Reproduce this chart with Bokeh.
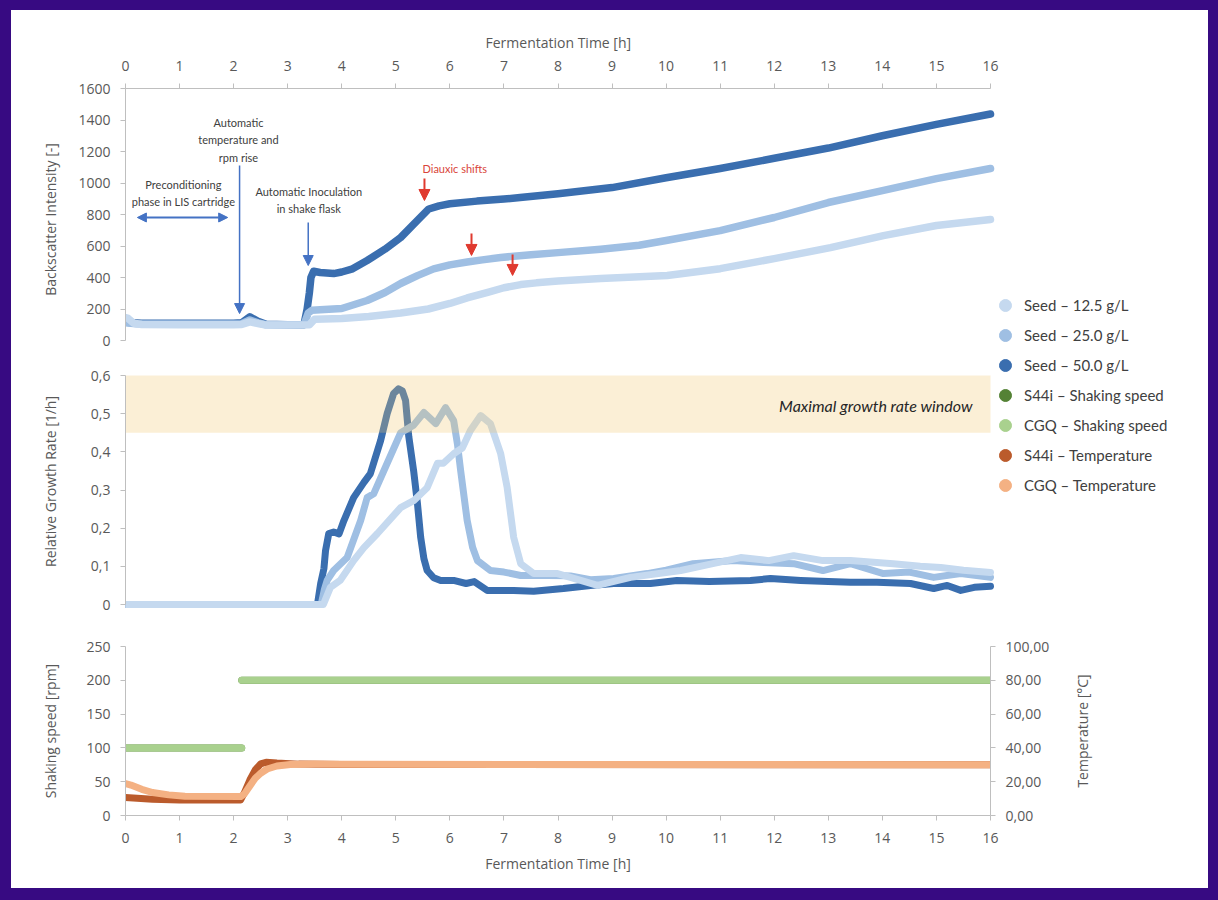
import math
from bokeh.plotting import figure
from bokeh.layouts import column, row
from bokeh.models import (ColumnDataSource, Range1d, LinearAxis, FixedTicker, Title,
                          CustomJSTickFormatter, Arrow, NormalHead, Legend, LegendItem)
from bokeh.core.properties import value
from bokeh.embed import file_html
from bokeh.resources import INLINE

nan = float("nan")

# ---------------- data ----------------
hour_ticks = list(range(0, 17))
bs_ticks = [0, 200, 400, 600, 800, 1000, 1200, 1400, 1600]
mu_ticks = [0, 0.1, 0.2, 0.3, 0.4, 0.5, 0.6]
rpm_ticks = [0, 50, 100, 150, 200, 250]
temp_ticks = [0, 20, 40, 60, 80, 100]

# Backscatter intensity
bs_t_50 = [0.0, 0.1, 0.3, 1.0, 2.0, 2.15, 2.3, 2.45, 2.6, 3.0, 3.3, 3.36, 3.4, 3.43, 3.48,
           3.6, 3.85, 4.0, 4.2, 4.47, 4.8, 5.09, 5.4, 5.61, 5.8, 6.0, 6.5, 7.0, 7.3, 8.0,
           9.0, 10.0, 11.0, 12.0, 13.0, 14.0, 15.0, 16.0]
bs_50 = [118, 112, 110, 110, 110, 113, 150, 122, 103, 100, 100, 200, 300, 400, 440,
         432, 425, 435, 455, 508, 580, 654, 762, 835, 855, 868, 885, 898, 908, 932,
         971, 1033, 1092, 1157, 1222, 1300, 1372, 1438]
bs_t_25 = [0.0, 0.2, 1.0, 2.0, 2.15, 2.3, 2.45, 2.6, 3.0, 3.3, 3.38, 3.45, 3.6, 4.0, 4.47,
           4.8, 5.09, 5.4, 5.7, 6.0, 6.32, 6.6, 6.94, 7.5, 8.0, 8.79, 9.5, 10.0, 11.0, 12.0,
           13.0, 14.0, 15.0, 16.0]
bs_25 = [112, 106, 105, 105, 107, 130, 112, 100, 100, 100, 175, 192, 195, 203, 254,
         305, 362, 412, 455, 480, 498, 512, 527, 545, 558, 580, 605, 635, 698, 781,
         876, 952, 1028, 1092]
bs_t_12 = [0.0, 0.05, 0.15, 0.3, 1.0, 2.0, 2.15, 2.3, 2.45, 2.6, 3.0, 3.4, 3.5, 4.0, 4.5,
           5.09, 5.6, 6.0, 6.32, 6.7, 7.0, 7.31, 7.6, 8.0, 8.79, 10.02, 11.0, 12.0, 13.04,
           14.02, 15.0, 16.0]
bs_12 = [145, 140, 110, 102, 100, 100, 102, 118, 108, 98, 98, 100, 135, 140, 152,
         175, 200, 235, 270, 305, 335, 355, 366, 378, 394, 413, 456, 520, 590,
         666, 730, 768]

# Relative growth rate
mu_t_50 = [0.0, 3.55, 3.61, 3.67, 3.70, 3.76, 3.85, 3.95, 4.04, 4.22, 4.41, 4.53, 4.72, 4.84,
           4.96, 5.05, 5.12, 5.18, 5.24, 5.33, 5.40, 5.46, 5.52, 5.58, 5.70, 5.83, 6.07, 6.30,
           6.45, 6.69, 7.18, 7.55, 8.10, 8.60, 9.03, 9.71, 10.20, 10.80, 11.56, 11.93, 12.49,
           13.00, 13.41, 13.90, 14.52, 14.95, 15.20, 15.45, 15.70, 16.0]
mu_50 = [0, 0, 0.055, 0.094, 0.141, 0.186, 0.19, 0.185, 0.22, 0.28, 0.32, 0.343, 0.43, 0.50,
         0.553, 0.565, 0.56, 0.535, 0.44, 0.35, 0.265, 0.176, 0.12, 0.089, 0.07, 0.063, 0.063,
         0.055, 0.06, 0.037, 0.037, 0.035, 0.042, 0.05, 0.055, 0.055, 0.063, 0.06, 0.063, 0.068,
         0.063, 0.06, 0.058, 0.058, 0.055, 0.042, 0.05, 0.037, 0.045, 0.048]
mu_t_25 = [0.0, 3.62, 3.68, 3.73, 3.85, 4.10, 4.35, 4.47, 4.59, 4.84, 5.09, 5.33, 5.52, 5.74,
           5.92, 6.07, 6.14, 6.20, 6.32, 6.42, 6.51, 6.75, 7.00, 7.31, 7.80, 8.23, 8.60, 9.03,
           9.65, 10.00, 10.50, 11.25, 11.80, 12.36, 12.90, 13.41, 14.02, 14.50, 14.95, 15.45, 16.0]
mu_25 = [0, 0, 0.04, 0.063, 0.089, 0.123, 0.22, 0.28, 0.29, 0.37, 0.45, 0.47, 0.503, 0.474,
         0.516, 0.482, 0.42, 0.35, 0.22, 0.15, 0.115, 0.089, 0.085, 0.076, 0.076, 0.075, 0.065,
         0.068, 0.081, 0.09, 0.107, 0.115, 0.11, 0.107, 0.089, 0.107, 0.081, 0.085, 0.071,
         0.081, 0.071]
mu_t_12 = [0.0, 3.66, 3.79, 3.97, 4.22, 4.41, 4.66, 5.09, 5.33, 5.58, 5.77, 5.88, 6.07, 6.23,
           6.38, 6.57, 6.75, 6.94, 7.06, 7.18, 7.31, 7.55, 7.99, 8.42, 8.73, 9.34, 10.27, 10.80,
           11.38, 11.90, 12.36, 12.90, 13.41, 14.20, 14.70, 15.08, 15.50, 16.0]
mu_12 = [0, 0, 0.045, 0.063, 0.115, 0.149, 0.186, 0.254, 0.272, 0.306, 0.37, 0.37, 0.395, 0.41,
         0.456, 0.495, 0.474, 0.395, 0.306, 0.176, 0.107, 0.081, 0.081, 0.063, 0.05, 0.071,
         0.089, 0.105, 0.123, 0.115, 0.128, 0.115, 0.115, 0.107, 0.1, 0.097, 0.09, 0.084]
band_left, band_right, band_bottom, band_top = [0.0], [16.0], [0.45], [0.6]

# Shaking speed [rpm] and temperature [°C]
shake_t = [0.0, 2.15, 2.15, 2.15, 16.0]
s44_rpm = [100, 100, nan, 200, 200]
cgq_rpm = [100, 100, nan, 200, 200]
s44_temp_t = [0.0, 0.5, 1.0, 2.13, 2.2, 2.3, 2.4, 2.5, 2.6, 2.8, 3.2, 4.0, 16.0]
s44_temp = [10.6, 9.6, 9.2, 9.2, 13.5, 21.0, 27.0, 30.5, 31.5, 31.0, 30.4, 30.2, 30.0]
cgq_temp_t = [0.0, 0.1, 0.3, 0.5, 0.8, 1.1, 2.13, 2.2, 2.3, 2.4, 2.5, 2.62, 2.8, 3.05, 3.5, 4.0, 16.0]
cgq_temp = [18.9, 18.0, 15.5, 13.6, 12.2, 11.4, 11.2, 12.8, 17.5, 22.0, 25.0, 27.5, 29.3, 30.2,
            30.4, 30.3, 30.0]

legend_labels = ["Seed – 12.5 g/L", "Seed – 25.0 g/L", "Seed – 50.0 g/L",
                 "S44i – Shaking speed", "CGQ – Shaking speed",
                 "S44i – Temperature", "CGQ – Temperature"]

# ---------------- styles ----------------
PURPLE = "#370a82"
C12, C25, C50 = "#c5d9ef", "#9fbfe3", "#3a6eaf"
G_DARK, G_LIGHT = "#548235", "#a9d18e"
O_DARK, O_LIGHT = "#bb5b2c", "#f4b183"
AXC, TXT = "#bfbfbf", "#595959"
FONT = "Open Sans"
W = 1197
FL, FR = 114, 218
LW = 7.5
PX_PER_H = 865 / 16.0              # frame scale of the time axis
T_VIEW = (W - FL) / PX_PER_H       # top/middle frames extend to the right edge (legend room)
LAB_W = 148                        # width of the strip holding the right axis title


def style_axis(ax, standoff, label_standoff):
    ax.axis_line_color = AXC
    ax.major_tick_line_color = AXC
    ax.minor_tick_line_color = None
    ax.major_tick_out = 5
    ax.major_tick_in = 0
    ax.major_label_text_font = FONT
    ax.major_label_text_font_size = "14px"
    ax.major_label_text_color = TXT
    ax.major_label_standoff = standoff
    ax.axis_label_text_font = FONT
    ax.axis_label_text_font_size = "14px"
    ax.axis_label_text_color = TXT
    ax.axis_label_text_font_style = "normal"
    ax.axis_label_standoff = label_standoff


def base(p):
    p.xgrid.visible = False
    p.ygrid.visible = False
    p.outline_line_color = None
    p.background_fill_color = "white"
    p.border_fill_color = "white"
    p.frame_align = False


def make_legend(p, labels, colors, loc):
    items = []
    for lab_, col in zip(labels, colors):
        r = p.scatter(x=[nan], y=[nan], marker="circle", size=12, fill_color=col, line_color=col)
        items.append(LegendItem(label=lab_, renderers=[r]))
    leg = Legend(items=items, location=loc, orientation="vertical",
                 glyph_width=30, glyph_height=30, label_height=30, spacing=0,
                 padding=0, margin=0, label_standoff=4,
                 border_line_color=None, background_fill_alpha=0,
                 label_text_font="Lato", label_text_font_size="15px",
                 label_text_color="#404040")
    p.add_layout(leg)


# ---------------- top: backscatter ----------------
xr_top = Range1d(0, T_VIEW)
p1 = figure(width=W, height=340, x_range=xr_top, y_range=Range1d(-10 / 0.1575, 1600),
            x_axis_location="above", output_backend="svg", toolbar_location=None,
            min_border_left=FL, min_border_right=0, min_border_top=78, min_border_bottom=0)
base(p1)
p1.xaxis.ticker = FixedTicker(ticks=hour_ticks)
p1.xaxis.bounds = (0, 16)
style_axis(p1.xaxis[0], 13, 8)
p1.yaxis.ticker = FixedTicker(ticks=bs_ticks)
p1.yaxis.bounds = (0, 1600)
p1.yaxis.axis_label = "Backscatter Intensity [-]"
style_axis(p1.yaxis[0], 10, 15)
# axis title of the top time axis, centred over the 0–16 h part of the frame
p1.add_layout(Title(text="Fermentation Time [h]", align="left", offset=360, standoff=11,
                    text_font=FONT, text_font_size="14px", text_font_style="normal",
                    text_color=TXT), "above")

for t, v, c in [(bs_t_50, bs_50, C50), (bs_t_25, bs_25, C25), (bs_t_12, bs_12, C12)]:
    p1.line(t, v, line_width=LW, color=c, line_cap="round", line_join="round")

ann = ColumnDataSource(dict(
    x=[1.07, 2.09, 3.39],
    y=[936, 1273, 892],
    text=["Preconditioning\nphase in LIS cartridge", "Automatic\ntemperature and\nrpm rise",
          "Automatic Inoculation\nin shake flask"]))
p1.text(x="x", y="y", text="text", source=ann, text_font=value("Lato"), text_font_size="11px",
        text_color="#404040", text_align="center", text_baseline="middle", text_line_height=1.35)
p1.text(x=[6.09], y=[1092], text=["Diauxic shifts"], text_font=value("Lato"),
        text_font_size="11px", text_color="#d9453a", text_align="center", text_baseline="middle")

BLUE = "#4472c4"
RED = "#e03a2f"


def head(c, s):
    return NormalHead(size=s, fill_color=c, line_color=c)


p1.add_layout(Arrow(start=head(BLUE, 9), end=head(BLUE, 9), x_start=0.22, y_start=781,
                    x_end=1.89, y_end=781, line_color=BLUE, line_width=2))
p1.add_layout(Arrow(end=head(BLUE, 10), x_start=2.11, y_start=1111, x_end=2.11, y_end=171,
                    line_color=BLUE, line_width=1.5))
p1.add_layout(Arrow(end=head(BLUE, 10), x_start=3.38, y_start=749, x_end=3.38, y_end=476,
                    line_color=BLUE, line_width=1.5))
for ax_, y0, y1 in [(5.53, 1029, 889), (6.40, 679, 540), (7.16, 546, 413)]:
    p1.add_layout(Arrow(end=head(RED, 11), x_start=ax_, y_start=y0, x_end=ax_, y_end=y1,
                        line_color=RED, line_width=2))

make_legend(p1, legend_labels[:2], [C12, C25], (865, 0))

# ---------------- middle: growth rate ----------------
MU_PX = 229 / 0.6
p2 = figure(width=W, height=272, x_range=xr_top,
            y_range=Range1d(-8 / MU_PX, 0.6 + 25 / MU_PX),
            x_axis_location=None, output_backend="svg", toolbar_location=None,
            min_border_left=FL, min_border_right=0, min_border_top=0, min_border_bottom=10)
base(p2)
p2.yaxis.ticker = FixedTicker(ticks=mu_ticks)
p2.yaxis.bounds = (0, 0.6)
p2.yaxis.formatter = CustomJSTickFormatter(
    code="return tick == 0 ? '0' : tick.toFixed(1).replace('.', ',');")
p2.yaxis.axis_label = "Relative Growth Rate [1/h]"
style_axis(p2.yaxis[0], 10, 28)

for t, v, c in [(mu_t_50, mu_50, C50), (mu_t_25, mu_25, C25), (mu_t_12, mu_12, C12)]:
    p2.line(t, v, line_width=7, color=c, line_cap="round", line_join="round")

p2.quad(left=band_left, right=band_right, bottom=band_bottom, top=band_top,
        fill_color="#f2c66d", fill_alpha=0.28, line_color=None)
p2.text(x=[15.67], y=[0.521], text=["Maximal growth rate window"], text_font=value("Lato"),
        text_font_size="16px", text_font_style="italic", text_color="#262626",
        text_align="right", text_baseline="middle")

make_legend(p2, legend_labels[2:], [C50, G_DARK, G_LIGHT, O_DARK, O_LIGHT], (865, 112))

# ---------------- bottom: shaking speed & temperature ----------------
p3 = figure(width=W - LAB_W, height=266, x_range=Range1d(0, 16), y_range=Range1d(0, 250),
            output_backend="svg", toolbar_location=None,
            min_border_left=FL, min_border_right=FR - LAB_W, min_border_top=24,
            min_border_bottom=73)
base(p3)
p3.extra_y_ranges = {"temp": Range1d(0, 100)}
p3.xaxis.ticker = FixedTicker(ticks=hour_ticks)
p3.xaxis.axis_label = "Fermentation Time [h]"
style_axis(p3.xaxis[0], 12, 8)
p3.yaxis.ticker = FixedTicker(ticks=rpm_ticks)
p3.yaxis.axis_label = "Shaking speed [rpm]"
style_axis(p3.yaxis[0], 10, 23)
rax = LinearAxis(y_range_name="temp", ticker=FixedTicker(ticks=temp_ticks),
                 formatter=CustomJSTickFormatter(code="return tick.toFixed(2).replace('.', ',');"))
style_axis(rax, 10, 0)
rax.major_label_text_align = "left"
p3.add_layout(rax, "right")

p3.line(shake_t, s44_rpm, line_width=7, color=G_DARK, line_cap="round")
p3.line(shake_t, cgq_rpm, line_width=7, color=G_LIGHT, line_cap="round")
p3.line(s44_temp_t, s44_temp, y_range_name="temp", line_width=7, color=O_DARK,
        line_cap="round", line_join="round")
p3.line(cgq_temp_t, cgq_temp, y_range_name="temp", line_width=7, color=O_LIGHT,
        line_cap="round", line_join="round")

# strip to the right of the bottom panel that carries the right axis title
lab = figure(width=LAB_W, height=266, x_range=Range1d(0, LAB_W), y_range=Range1d(0, 266),
             x_axis_location=None, y_axis_location=None, output_backend="svg",
             toolbar_location=None, min_border=0)
base(lab)
lab.text(x=[22], y=[266 - (730.5 - 622)], text=["Temperature [°C]"], angle=math.pi / 2,
         text_font=value(FONT), text_font_size="14px", text_color=TXT,
         text_align="center", text_baseline="middle")

bottom = row(p3, lab, spacing=0)
inner = column(p1, p2, bottom, spacing=0, margin=(10, 10, 12, 11),
               styles={"background-color": "white"})
layout = column(inner, spacing=0,
                styles={"background-color": PURPLE, "position": "absolute",
                        "left": "0px", "top": "0px"})

open("out.html", "w").write(file_html(layout, INLINE))
